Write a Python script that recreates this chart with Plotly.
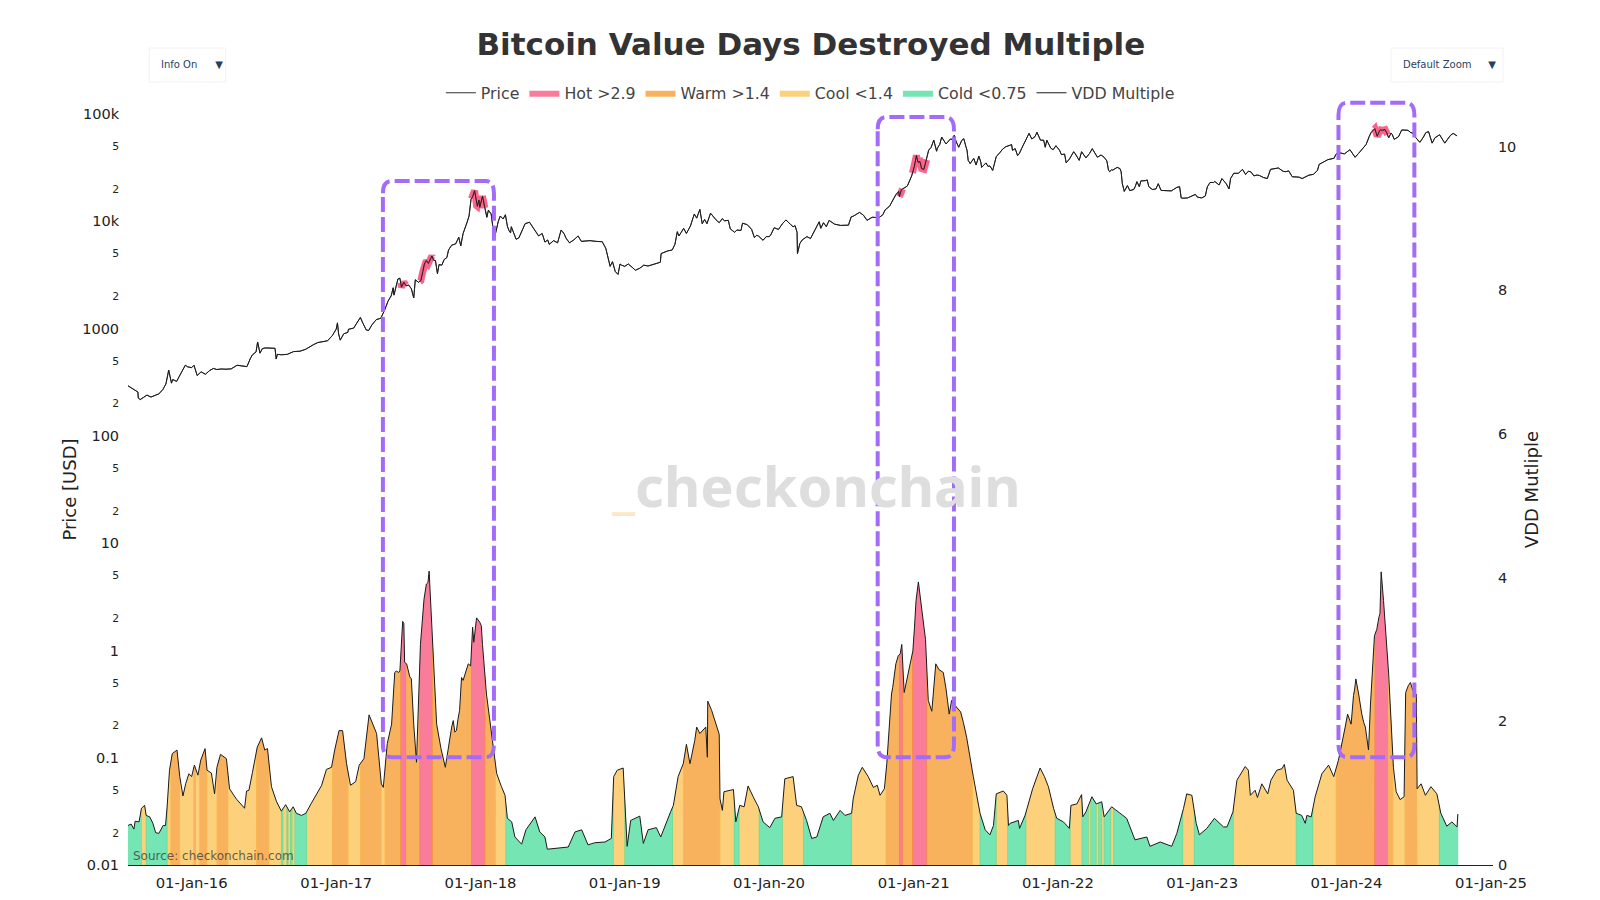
import numpy as np
import pandas as pd
import plotly.graph_objects as go

START = pd.Timestamp("2015-07-24")

price_dates = """2015-07-24 2015-08-01 2015-08-10 2015-08-18 2015-08-19 2015-08-24 2015-09-01 2015-09-10 2015-09-20 2015-10-01 2015-10-10 2015-10-20 2015-10-28 2015-11-04 2015-11-07 2015-11-11 2015-11-14 2015-11-24 2015-12-01 2015-12-10 2015-12-16 2015-12-22 2016-01-01 2016-01-07 2016-01-15 2016-01-25 2016-02-05 2016-02-15 2016-02-25 2016-03-05 2016-03-15 2016-03-28 2016-04-10 2016-04-25 2016-05-05 2016-05-20 2016-05-29 2016-06-03 2016-06-12 2016-06-16 2016-06-22 2016-06-28 2016-07-05 2016-07-15 2016-07-30 2016-08-02 2016-08-05 2016-08-15 2016-08-30 2016-09-15 2016-10-01 2016-10-15 2016-10-28 2016-11-05 2016-11-15 2016-12-01 2016-12-10 2016-12-22 2017-01-01 2017-01-04 2017-01-07 2017-01-11 2017-01-20 2017-02-01 2017-02-14 2017-02-25 2017-03-03 2017-03-10 2017-03-18 2017-03-24 2017-04-01 2017-04-12 2017-04-24 2017-05-04 2017-05-12 2017-05-20 2017-05-25 2017-05-27 2017-06-06 2017-06-11 2017-06-15 2017-06-21 2017-06-27 2017-07-03 2017-07-10 2017-07-16 2017-07-20 2017-07-28 2017-08-03 2017-08-08 2017-08-12 2017-08-17 2017-08-22 2017-08-31 2017-09-04 2017-09-09 2017-09-14 2017-09-18 2017-09-25 2017-10-01 2017-10-08 2017-10-12 2017-10-20 2017-10-30 2017-11-07 2017-11-12 2017-11-18 2017-11-28 2017-12-03 2017-12-08 2017-12-12 2017-12-17 2017-12-22 2017-12-24 2017-12-28 2017-12-30 2018-01-06 2018-01-12 2018-01-17 2018-01-21 2018-01-28 2018-02-05 2018-02-10 2018-02-20 2018-03-05 2018-03-10 2018-03-18 2018-03-20 2018-04-01 2018-04-08 2018-04-24 2018-05-05 2018-05-15 2018-05-28 2018-06-06 2018-06-13 2018-06-24 2018-07-05 2018-07-15 2018-07-24 2018-08-05 2018-08-14 2018-08-25 2018-09-05 2018-09-13 2018-09-25 2018-10-05 2018-10-20 2018-11-05 2018-11-14 2018-11-20 2018-11-25 2018-12-01 2018-12-08 2018-12-15 2018-12-20 2018-12-24 2019-01-01 2019-01-10 2019-01-28 2019-02-08 2019-02-18 2019-03-01 2019-03-20 2019-04-01 2019-04-03 2019-04-20 2019-05-01 2019-05-08 2019-05-14 2019-05-18 2019-05-30 2019-06-06 2019-06-16 2019-06-26 2019-07-02 2019-07-10 2019-07-16 2019-07-22 2019-08-06 2019-08-14 2019-08-20 2019-08-28 2019-09-05 2019-09-20 2019-09-25 2019-10-06 2019-10-22 2019-10-26 2019-11-07 2019-11-18 2019-11-25 2019-12-05 2019-12-17 2019-12-25 2020-01-05 2020-01-14 2020-01-25 2020-02-05 2020-02-13 2020-02-25 2020-03-07 2020-03-12 2020-03-13 2020-03-19 2020-03-28 2020-04-06 2020-04-15 2020-04-29 2020-05-07 2020-05-11 2020-05-18 2020-05-25 2020-06-01 2020-06-15 2020-06-30 2020-07-20 2020-07-27 2020-08-02 2020-08-17 2020-08-27 2020-09-05 2020-09-18 2020-10-05 2020-10-15 2020-10-21 2020-11-01 2020-11-08 2020-11-17 2020-11-24 2020-11-26 2020-12-01 2020-12-16 2020-12-27 2021-01-03 2021-01-08 2021-01-12 2021-01-17 2021-01-27 2021-02-08 2021-02-14 2021-02-21 2021-02-28 2021-03-08 2021-03-13 2021-03-24 2021-04-04 2021-04-14 2021-04-18 2021-04-25 2021-05-03 2021-05-08 2021-05-13 2021-05-19 2021-05-24 2021-06-02 2021-06-08 2021-06-15 2021-06-22 2021-07-03 2021-07-13 2021-07-20 2021-07-29 2021-08-08 2021-08-14 2021-08-22 2021-09-06 2021-09-08 2021-09-15 2021-09-21 2021-10-01 2021-10-08 2021-10-15 2021-10-20 2021-10-27 2021-11-09 2021-11-18 2021-11-26 2021-11-30 2021-12-04 2021-12-14 2021-12-27 2022-01-05 2022-01-10 2022-01-18 2022-01-22 2022-02-04 2022-02-10 2022-02-14 2022-02-24 2022-03-02 2022-03-13 2022-03-29 2022-04-11 2022-04-20 2022-05-05 2022-05-09 2022-05-12 2022-05-20 2022-05-31 2022-06-07 2022-06-10 2022-06-13 2022-06-18 2022-06-26 2022-07-02 2022-07-12 2022-07-20 2022-07-26 2022-07-30 2022-08-10 2022-08-15 2022-08-19 2022-08-28 2022-09-06 2022-09-12 2022-09-19 2022-10-01 2022-10-15 2022-10-29 2022-11-05 2022-11-09 2022-11-14 2022-11-25 2022-12-05 2022-12-15 2022-12-20 2022-12-31 2023-01-09 2023-01-14 2023-01-21 2023-02-02 2023-02-13 2023-02-20 2023-03-03 2023-03-10 2023-03-14 2023-03-22 2023-04-03 2023-04-13 2023-04-21 2023-05-05 2023-05-12 2023-05-26 2023-06-05 2023-06-15 2023-06-23 2023-07-13 2023-07-25 2023-08-08 2023-08-17 2023-08-25 2023-09-11 2023-09-28 2023-10-10 2023-10-20 2023-10-24 2023-11-09 2023-11-15 2023-12-01 2023-12-05 2023-12-11 2023-12-27 2024-01-10 2024-01-23 2024-02-01 2024-02-10 2024-02-20 2024-02-28 2024-03-04 2024-03-13 2024-03-19 2024-03-25 2024-04-01 2024-04-08 2024-04-17 2024-04-26 2024-05-01 2024-05-12 2024-05-20 2024-06-05 2024-06-12 2024-06-24 2024-07-05 2024-07-14 2024-07-27 2024-08-05 2024-08-12 2024-08-24 2024-09-06 2024-09-15 2024-09-27 2024-10-07""".split()

price_values = [293, 280, 263, 256, 225, 218, 228, 240, 230, 237, 246, 270, 305, 410, 370, 310, 335, 322, 360, 415, 455, 440, 432, 455, 365, 395, 375, 405, 425, 415, 420, 418, 421, 455, 447, 442, 530, 570, 605, 750, 590, 650, 660, 660, 655, 520, 575, 570, 575, 610, 615, 640, 690, 710, 740, 755, 770, 860, 990, 1130, 890, 780, 895, 985, 1010, 1180, 1270, 1110, 970, 960, 1080, 1210, 1250, 1510, 1800, 2020, 2400, 2050, 2900, 2950, 2430, 2700, 2500, 2550, 2350, 1930, 2850, 2700, 2800, 3400, 4000, 4300, 4050, 4750, 4350, 4300, 3250, 3950, 3900, 4400, 4600, 5400, 5990, 6150, 7100, 5900, 7700, 9800, 11200, 16000, 16900, 19300, 14000, 13800, 15800, 13500, 17100, 13300, 10900, 12700, 11700, 6900, 8600, 11200, 11500, 9000, 7800, 8900, 6800, 7000, 9500, 9800, 8700, 7300, 7700, 6400, 6100, 6600, 6300, 8300, 7000, 6300, 6700, 7300, 6500, 6600, 6600, 6500, 6450, 5600, 4600, 3800, 4200, 3400, 3200, 4000, 3900, 3800, 4000, 3500, 3650, 3900, 3830, 4050, 4150, 5000, 5300, 5400, 6100, 8000, 7300, 8600, 7700, 9000, 11700, 10700, 12900, 9500, 10400, 11900, 10800, 10300, 9700, 10600, 10200, 8500, 7900, 8200, 9600, 9300, 8400, 7050, 7300, 6650, 7200, 7400, 8700, 8400, 9600, 10300, 9300, 9100, 7900, 5000, 6200, 6800, 7200, 6900, 8700, 9900, 8600, 9700, 8900, 10200, 9400, 9150, 9200, 11000, 11200, 12100, 11400, 10200, 10900, 10800, 11500, 12800, 13800, 15500, 17700, 19000, 17000, 19700, 21300, 26500, 32700, 41000, 35500, 36000, 30500, 46000, 48700, 57000, 45000, 52000, 61000, 52500, 58500, 63500, 56000, 49000, 57000, 58800, 50000, 37000, 34500, 38500, 33500, 40500, 31800, 35000, 32800, 29800, 40000, 44000, 47000, 49500, 51800, 45900, 47500, 41000, 47500, 54000, 61500, 66000, 58500, 67500, 57000, 57000, 49000, 57000, 48000, 50600, 46000, 41800, 42300, 35000, 41500, 44500, 42500, 37000, 44500, 39000, 47500, 39500, 41500, 36500, 30000, 29000, 30000, 31800, 31000, 29000, 22500, 19000, 21500, 19300, 19800, 23400, 21000, 23800, 23900, 24300, 21000, 19800, 20000, 22400, 19400, 19300, 19200, 20700, 21000, 16500, 16400, 16500, 17000, 17800, 16800, 16500, 17200, 20900, 23000, 23500, 21800, 25000, 22400, 20000, 25000, 28000, 28000, 30500, 27300, 28800, 26500, 26700, 25600, 25000, 30500, 31400, 29200, 29500, 26000, 26100, 25000, 26900, 27400, 29900, 33900, 36700, 37500, 38700, 41900, 43800, 42500, 46500, 39500, 43000, 47500, 52000, 62000, 67500, 73000, 62000, 70000, 70500, 71500, 60000, 64500, 58000, 61500, 71000, 70500, 67000, 60500, 54500, 61000, 68500, 53500, 60000, 64000, 53500, 60500, 66000, 62500]

price_extra_dates = """2016-04-05 2017-01-30 2018-02-15 2018-02-27 2018-03-14 2018-04-15 2018-06-20 2018-08-01 2019-05-24 2019-07-28 2019-09-10 2019-10-12 2019-12-01 2020-01-01 2020-03-02 2020-03-25 2021-01-21 2021-02-03 2021-03-02 2021-04-08 2021-05-16 2021-06-20 2021-07-08 2021-09-25 2021-11-04 2021-12-20 2022-01-30 2022-03-22 2022-04-28 2022-05-17 2022-07-16 2022-09-30 2023-01-30 2023-04-28 2023-05-20 2023-08-01 2023-09-03 2024-03-28 2024-04-12 2024-04-23 2024-06-17 2024-07-20 2024-09-20""".split()
price_extra_values = [424, 920, 10000, 10500, 8200, 8000, 6700, 7600, 7900, 9500, 10100, 8300, 7400, 7200, 8900, 6700, 31000, 37500, 48000, 58000, 46000, 35500, 32500, 42500, 61500, 46500, 38000, 42800, 39500, 30200, 21200, 19400, 23000, 29300, 27000, 29000, 25800, 71000, 67000, 66500, 66500, 67000, 63000]

vdd_days = [0, 8, 15, 18, 28, 34, 42, 46, 55, 63, 70, 78, 89, 95, 99, 105, 112, 124, 131, 139, 146, 154, 161, 168, 177, 184, 195, 200, 211, 219, 225, 234, 249, 257, 274, 287, 295, 300, 306, 315, 327, 338, 346, 353, 363, 376, 388, 399, 409, 418, 426, 439, 450, 464, 477, 490, 502, 515, 523, 534, 543, 553, 563, 576, 585, 597, 610, 620, 629, 641, 646, 656, 667, 675, 688, 695, 700, 713, 723, 730, 740, 749, 762, 768, 781, 792, 803, 819, 831, 844, 861, 872, 882, 894, 907, 920, 933, 945, 954, 960, 971, 979, 996, 1007, 1030, 1042, 1055, 1061, 1076, 1114, 1131, 1148, 1164, 1181, 1207, 1223, 1229, 1238, 1253, 1260, 1263, 1272, 1295, 1304, 1316, 1337, 1348, 1373, 1380, 1392, 1405, 1413, 1422, 1434, 1439, 1447, 1462, 1466, 1467, 1477, 1489, 1496, 1498, 1504, 1508, 1532, 1538, 1548, 1559, 1569, 1582, 1595, 1607, 1624, 1637, 1654, 1662, 1683, 1692, 1704, 1717, 1730, 1743, 1759, 1776, 1785, 1802, 1814, 1831, 1835, 1848, 1858, 1873, 1886, 1896, 1903, 1914, 1920, 1932, 1949, 1958, 1964, 1975, 1986, 1994, 2000, 2008, 2018, 2025, 2034, 2044, 2063, 2078, 2084, 2107, 2122, 2139, 2156, 2169, 2181, 2190, 2197, 2215, 2224, 2228, 2232, 2253, 2256, 2270, 2281, 2289, 2308, 2319, 2329, 2342, 2350, 2367, 2382, 2386, 2401, 2413, 2416, 2424, 2439, 2450, 2464, 2470, 2489, 2511, 2527, 2548, 2578, 2586, 2612, 2641, 2654, 2671, 2679, 2692, 2703, 2711, 2730, 2749, 2772, 2781, 2796, 2806, 2827, 2835, 2840, 2852, 2858, 2869, 2884, 2892, 2907, 2920, 2926, 2933, 2949, 2956, 2970, 2979, 2983, 2994, 3004, 3021, 3038, 3051, 3063, 3080, 3086, 3095, 3101, 3107, 3114, 3122, 3131, 3139, 3144, 3154, 3165, 3171, 3177, 3190, 3196, 3202, 3209, 3219, 3229, 3233, 3245, 3260, 3262, 3272, 3283, 3297, 3312, 3322, 3337, 3350, 3363, 3365]

vdd_values = [.55, .57, .50, .61, .60, .79, .83, .69, .67, .58, .45, .44, .55, .55, .81, 1.32, 1.55, 1.60, 1.23, .96, 1.13, 1.27, 1.23, 1.39, 1.25, 1.46, 1.62, 1.32, 1.28, .99, 1.36, 1.54, 1.48, 1.06, .92, .83, .79, 1.03, 1.04, 1.29, 1.64, 1.77, 1.60, 1.62, 1.09, .88, .75, .84, .74, .81, .72, .69, .72, .86, .99, 1.11, 1.33, 1.36, 1.60, 1.87, 1.87, 1.41, 1.11, 1.16, 1.39, 1.48, 2.09, 1.96, 1.83, 1.13, 1.08, 1.69, 1.96, 2.68, 2.70, 3.39, 2.82, 2.62, 1.96, 1.43, 3.07, 3.70, 4.09, 3.35, 1.96, 1.62, 1.36, 1.92, 1.87, 2.61, 2.80, 3.31, 3.44, 3.33, 2.38, 1.83, 1.27, 1.09, .97, .65, .60, .39, .29, .49, .67, .46, .39, .22, .23, .25, .46, .49, .28, .31, .32, .37, 1.23, 1.32, 1.35, .67, .26, .62, .68, .30, .49, .52, .39, .74, .83, 1.23, 1.41, 1.68, 1.41, 1.73, 1.92, 1.83, 1.92, 1.50, 2.28, 2.15, 1.94, 1.82, .92, .76, 1.02, 1.05, .60, .83, .81, 1.10, .95, .81, .60, .52, .65, .67, 1.20, 1.23, .83, .81, .62, .37, .39, .67, .72, .62, .76, .69, .72, .92, 1.25, 1.36, 1.23, 1.08, 1.11, .97, 1.06, 1.41, 2.38, 2.91, 3.07, 2.40, 2.68, 2.98, 3.68, 3.94, 3.58, 3.14, 2.29, 2.14, 2.80, 2.68, 2.10, 2.29, 2.13, 1.78, 1.23, .72, .49, .42, .55, .99, 1.03, .97, .55, .58, .62, .51, .69, .92, 1.06, 1.35, 1.23, 1.09, .79, .65, .60, .51, .83, .85, .98, .67, .74, .95, .85, .88, .67, .81, .71, .65, .35, .39, .26, .32, .26, .44, .79, .99, .97, .58, .42, .51, .65, .53, .53, .74, 1.18, 1.37, 1.32, .97, 1.04, .94, 1.13, .99, 1.18, 1.32, 1.34, 1.40, 1.18, 1.04, .72, .69, .58, .69, .67, .95, 1.27, 1.39, 1.23, 1.46, 1.92, 2.10, 1.96, 2.36, 2.59, 2.38, 2.10, 1.92, 1.60, 2.24, 3.19, 3.44, 4.08, 3.68, 2.66, 2.06, 1.36, 1.02, .91, .95, 2.40, 2.54, 2.38, 1.06, 1.13, .97, 1.09, .99, .72, .54, .60, .53, .71]

vdd_extra_days = [679, 685, 698, 705, 717, 755, 759, 772, 823, 827, 835, 839, 848, 867, 875, 890, 897, 1935, 1943, 1954, 1990, 2052, 2070, 2096, 2114, 3098, 3104, 3118, 3127, 3160, 3168, 3174, 3240, 3252]
vdd_extra_values = [2.70, 2.68, 3.36, 2.80, 2.59, 3.91, 3.93, 2.98, 2.01, 1.85, 2.03, 2.15, 2.57, 2.77, 3.10, 3.38, 3.07, 2.47, 2.80, 2.94, 3.30, 2.72, 2.45, 2.20, 1.98, 2.20, 2.45, 2.22, 1.98, 3.28, 3.50, 3.90, 2.50, 2.42]

hot_starts = [690, 738, 869, 1952, 1985, 3154]
hot_ends = [703, 770, 903, 1960, 2021, 3187]
warm_starts = [108, 166, 181, 225, 325, 517, 588, 650, 703, 770, 903, 1405, 1918, 1960, 2021, 3057, 3187, 3231]
warm_ends = [131, 171, 200, 253, 357, 557, 641, 690, 738, 869, 930, 1498, 1952, 1985, 2137, 3154, 3201, 3262]
cool_starts = [34, 99, 131, 171, 200, 253, 357, 392, 405, 415, 452, 557, 641, 930, 1228, 1378, 1498, 1546, 1656, 1831, 2137, 2197, 2272, 2384, 2430, 2450, 2464, 2487, 2669, 2797, 2998, 3201, 3262]
cool_ends = [46, 108, 166, 181, 225, 325, 388, 402, 411, 422, 517, 588, 650, 956, 1257, 1405, 1534, 1597, 1709, 1918, 2156, 2226, 2346, 2414, 2436, 2456, 2470, 2494, 2698, 2956, 3057, 3231, 3318]
cold_starts = [0, 46, 388, 402, 411, 422, 956, 1257, 1534, 1597, 1709, 2156, 2226, 2346, 2414, 2436, 2456, 2470, 2494, 2698, 2956, 3318]
cold_ends = [34, 99, 392, 405, 415, 452, 1228, 1378, 1546, 1656, 1831, 2197, 2272, 2384, 2430, 2450, 2464, 2487, 2669, 2797, 2998, 3365]

box_start_days = [645, 1897, 3063]
box_end_days = [926, 2090, 3255]
box_top_vdd = [9.52, 10.41, 10.61]
box_bottom_vdd = 1.5

year_tick0 = "2016-01-01"
FS = "DejaVu Sans"
WIDTH, HEIGHT = 1600, 900
L, R, T, B = 128.3, 107, 114, 35
VDD_TOP = (HEIGHT - T - B) / 71.85
PW, PH = WIDTH - L - R, HEIGHT - T - B


def day_to_date(d):
    return START + pd.to_timedelta(np.asarray(d, dtype=float), unit="D")


def px(x):
    return (x - L) / PW


def py(y):
    return (HEIGHT - B - y) / PH


# merge and sort series
_p = pd.Series(price_values + price_extra_values, index=pd.to_datetime(price_dates + price_extra_dates)).sort_index()
price_t, price_v = _p.index, _p.values.astype(float)
price_day = np.array((price_t - START).days, dtype=float)

_order = np.argsort(np.array(vdd_days + vdd_extra_days), kind="stable")
days = np.array(vdd_days + vdd_extra_days, dtype=float)[_order]
vals = np.array(vdd_values + vdd_extra_values, dtype=float)[_order]


def band(starts, ends):
    xs, ys = [], []
    for s, e in zip(starts, ends):
        s0, e0 = s - 1, e + 1
        inner = (days > s0) & (days < e0)
        d = np.r_[s0, s0, days[inner], e0, e0]
        v = np.r_[0, np.interp(s0, days, vals), vals[inner], np.interp(e0, days, vals), 0]
        xs.extend(d.tolist())
        ys.extend(v.tolist())
    return day_to_date(xs), ys


fig = go.Figure()

fig.add_trace(go.Scatter(x=price_t, y=price_v, name="Price", mode="lines",
                         line=dict(color="#1a1a1a", width=0.9), yaxis="y"))

# price stretches inside the Hot regime
px_hot, py_hot = [], []
for s, e in zip(hot_starts, hot_ends):
    m = (price_day > s) & (price_day < e)
    d = np.r_[s, price_day[m], e]
    v = 10 ** np.interp(d, price_day, np.log10(price_v))
    px_hot += list(day_to_date(d)) + [None]
    py_hot += v.tolist() + [None]

bands = [
    ("Hot >2.9", hot_starts, hot_ends, "rgba(248,69,112,0.7)"),
    ("Warm >1.4", warm_starts, warm_ends, "rgba(245,145,26,0.7)"),
    ("Cool <1.4", cool_starts, cool_ends, "rgba(252,189,68,0.7)"),
    ("Cold <0.75", cold_starts, cold_ends, "rgba(58,218,148,0.7)"),
]
for name, st, en, col in bands:
    x, y = band(st, en)
    fig.add_trace(go.Scatter(x=x, y=y, name=name, mode="lines", yaxis="y2", fill="tozeroy",
                             fillcolor=col, line=dict(width=0, color=col), hoverinfo="skip"))

fig.add_trace(go.Scatter(x=px_hot, y=py_hot, mode="lines", yaxis="y", showlegend=False, hoverinfo="skip",
                         line=dict(color="rgba(245,50,100,0.75)", width=7)))
fig.add_trace(go.Scatter(x=price_t, y=price_v, mode="lines", yaxis="y",
                         showlegend=False, hoverinfo="skip", line=dict(color="#1a1a1a", width=0.9)))
fig.add_trace(go.Scatter(x=day_to_date(days), y=vals, name="VDD Multiple", mode="lines", yaxis="y2",
                         line=dict(color="#1a1a1a", width=1)))

shapes = []
for s, e, t in zip(box_start_days, box_end_days, box_top_vdd):
    rx = 22
    ry = 0.17
    fd = lambda d: str(day_to_date([d])[0].date())
    fy = lambda v: v / VDD_TOP
    path = (f"M{fd(s)},{fy(t - ry)} Q{fd(s)},{fy(t)} {fd(s + rx)},{fy(t)} L{fd(e - rx)},{fy(t)} "
            f"Q{fd(e)},{fy(t)} {fd(e)},{fy(t - ry)} L{fd(e)},{fy(box_bottom_vdd + ry)} "
            f"Q{fd(e)},{fy(box_bottom_vdd)} {fd(e - rx)},{fy(box_bottom_vdd)} L{fd(s + rx)},{fy(box_bottom_vdd)} "
            f"Q{fd(s)},{fy(box_bottom_vdd)} {fd(s)},{fy(box_bottom_vdd + ry)} Z")
    shapes.append(dict(type="path", xref="x", yref="paper", path=path,
                       line=dict(color="#a36cf8", width=4, dash="15px,5px")))

for x0, x1 in [(149.5, 226), (1391, 1503)]:
    shapes.append(dict(type="rect", xref="paper", yref="paper", x0=px(x0), x1=px(x1), y0=py(82), y1=py(48),
                       line=dict(color="#f2f2f2", width=1), fillcolor="rgba(255,255,255,0)"))

TICK = "rgba(0,0,0,0)"
fig.update_layout(
    width=WIDTH, height=HEIGHT, margin=dict(l=L, r=R, t=T, b=B, autoexpand=False),
    paper_bgcolor="white", plot_bgcolor="white",
    font=dict(family=FS, size=14, color="#111111"),
    title=dict(text="<b>Bitcoin Value Days Destroyed Multiple</b>", x=px(811), xanchor="center", xref="paper",
               y=1 - 44 / HEIGHT, yanchor="middle", font=dict(family=FS, size=31, color="#333333")),
    legend=dict(orientation="h", x=px(810.5), xanchor="center", y=py(93), yanchor="middle",
                font=dict(family=FS, size=15.8, color="#444444"), bgcolor="rgba(0,0,0,0)",
                itemwidth=30, traceorder="normal"),
    xaxis=dict(type="date", range=["2015-07-24", "2025-01-06"], tick0=year_tick0, dtick="M12",
               tickformat="%d-%b-%y", showgrid=False, zeroline=False, showline=True, linecolor="#222222",
               linewidth=1, ticks="outside", ticklen=4, tickcolor=TICK,
               tickfont=dict(family=FS, size=14.8, color="#222222")),
    yaxis=dict(type="log", range=[-2, 5], dtick="D2", showgrid=False, zeroline=False, showline=False,
               ticks="outside", ticklen=5, tickcolor=TICK, tickfont=dict(family=FS, size=14.5, color="#222222"),
               title=dict(text="Price [USD]", font=dict(family=FS, size=18, color="#222222"), standoff=0)),
    yaxis2=dict(overlaying="y", side="right", range=[0, VDD_TOP], dtick=2, showgrid=False, zeroline=False,
                showline=False, ticks="outside", ticklen=1, tickcolor=TICK,
                tickfont=dict(family=FS, size=14.5, color="#222222"),
                title=dict(text="VDD Mutliple", font=dict(family=FS, size=18, color="#222222"), standoff=10)),
    shapes=shapes,
    annotations=[
        dict(xref="paper", yref="paper", x=px(816.5), y=py(485), xanchor="center", yanchor="middle", showarrow=False,
             text="<span style='color:#fde7c8'><b>_</b></span><b>checkonchain</b>",
             font=dict(family="Noto Sans", size=56, color="#dedede")),
        dict(xref="paper", yref="paper", x=px(131), y=py(856), xanchor="left", yanchor="middle", showarrow=False,
             text="Source: checkonchain.com", font=dict(family=FS, size=12, color="rgba(60,60,60,0.8)")),
    ],
    updatemenus=[
        dict(type="dropdown", active=0, x=px(149.5), y=py(65), xanchor="left", yanchor="middle", showactive=False,
             bgcolor="rgba(255,255,255,0)", borderwidth=0, pad=dict(t=0, b=0, l=0, r=0),
             font=dict(family=FS, size=10, color="#2a3f5f"),
             buttons=[dict(label="Info On", method="relayout", args=[{"annotations[1].visible": True}]),
                      dict(label="Info Off", method="relayout", args=[{"annotations[1].visible": False}])]),
        dict(type="dropdown", active=0, x=px(1391), y=py(65), xanchor="left", yanchor="middle", showactive=False,
             bgcolor="rgba(255,255,255,0)", borderwidth=0, pad=dict(t=0, b=0, l=0, r=0),
             font=dict(family=FS, size=10, color="#2a3f5f"),
             buttons=[dict(label="Default Zoom", method="relayout",
                           args=[{"xaxis.range": ["2015-07-24", "2025-01-06"]}]),
                      dict(label="Full History", method="relayout", args=[{"xaxis.autorange": True}])]),
    ],
)

fig.write_html("out.html", config={"displayModeBar": False},
               post_script="document.body.style.margin='0';document.body.style.overflow='hidden';")
